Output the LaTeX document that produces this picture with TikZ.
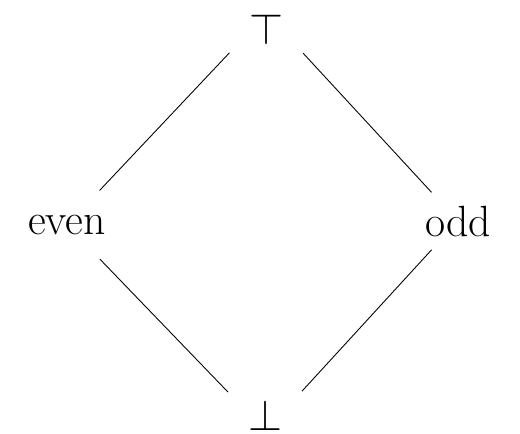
\documentclass[tikz,border=0pt]{standalone}
\begin{document}
\begin{tikzpicture}
  % Lattice of parities
  \tikzset{
    elem/.style={font=\Huge},
    sym/.style={font=\Huge, inner sep=0pt},
    order/.style={draw, line width=0.5pt, shorten <=1.08cm, shorten >=0.95cm}
  }
  \useasboundingbox (0,0) rectangle (10.4,8.66);

  % Elements
  \node[sym, anchor=north] (top) at (5.33,8.39) {$\top$};
  \node[sym, anchor=south] (bot) at (5.31,0.04) {$\bot$};
  \node[elem, anchor=base] (even) at (1.34,3.97) {even};
  \node[elem, anchor=base] (odd) at (9.16,3.94) {odd};

  % Order
  \draw[order] (top.north) -- (even.center);
  \draw[order, shorten >=0.78cm] (top.north) -- (odd.center);
  \draw[order] (bot.south) -- (even.center);
  \draw[order, shorten >=0.78cm] (bot.south) -- (odd.center);
\end{tikzpicture}
\end{document}
